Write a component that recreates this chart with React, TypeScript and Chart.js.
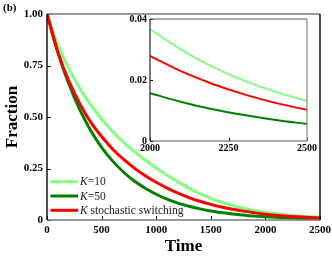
import React, { useEffect, useRef } from 'react';
import { Chart, registerables } from 'chart.js';

Chart.register(...registerables);

// ---------- data ----------
const times = [0, 100, 200, 300, 400, 500, 600, 700, 800, 900, 1000, 1100, 1200, 1300, 1400, 1500, 1600, 1700, 1800, 1900, 2000, 2100, 2200, 2300, 2400, 2500];
const fracK10 = [1, 0.85, 0.735, 0.64, 0.56, 0.49, 0.43, 0.378, 0.332, 0.29, 0.252, 0.217, 0.185, 0.155, 0.128, 0.105, 0.086, 0.07, 0.057, 0.046, 0.0367, 0.0299, 0.0243, 0.0198, 0.0161, 0.0131];
const fracK50 = [1, 0.812, 0.66, 0.536, 0.435, 0.353, 0.287, 0.233, 0.189, 0.154, 0.125, 0.101, 0.082, 0.067, 0.054, 0.044, 0.036, 0.029, 0.024, 0.019, 0.0157, 0.0128, 0.0104, 0.0085, 0.0069, 0.0056];
const fracSwitch = [1, 0.815, 0.675, 0.565, 0.475, 0.405, 0.345, 0.295, 0.252, 0.215, 0.183, 0.155, 0.13, 0.109, 0.091, 0.076, 0.063, 0.052, 0.043, 0.035, 0.0279, 0.0228, 0.0187, 0.0153, 0.0125, 0.0102];

const mainXTicks = [0, 500, 1000, 1500, 2000, 2500];
const mainYTicks = [0, 0.25, 0.5, 0.75, 1];
const insetXTicks = [2000, 2250, 2500];
const insetYTicks = [0, 0.02, 0.04];

const seriesNames = ['K=10', 'K=50', 'K stochastic switching'];
const seriesColors = ['#80ff80', '#008000', '#ff0000'];

const panelLabel = '(b)';
const xTitle = 'Time';
const yTitle = 'Fraction';

const SERIF = "'Liberation Serif', 'Times New Roman', serif";

const toPts = (ys: number[], from = 0) =>
  times.map((t, i) => ({ x: t, y: ys[i] })).filter((p) => p.x >= from);

const fmt = (v: number) => (v === 0 ? '0' : v.toFixed(2));

// ---------- plugins ----------
const frameTicks = {
  id: 'frameTicks',
  afterDatasetsDraw(chart: any, _args: any, opts: any) {
    const { ctx, chartArea } = chart;
    const { left, right, top, bottom } = chartArea;
    const len = opts.len ?? 4;
    ctx.save();
    ctx.lineWidth = 1;
    ctx.strokeStyle = '#111';
    const xs = chart.scales.x;
    const ys = chart.scales.y;
    xs.ticks.forEach((t: any) => {
      const px = Math.round(xs.getPixelForValue(t.value)) + 0.5;
      ctx.beginPath();
      ctx.moveTo(px, bottom);
      ctx.lineTo(px, bottom - len);
      ctx.stroke();
    });
    ys.ticks.forEach((t: any) => {
      const py = Math.round(ys.getPixelForValue(t.value)) + 0.5;
      ctx.beginPath();
      ctx.moveTo(left, py);
      ctx.lineTo(left + len, py);
      ctx.stroke();
    });
    // frame
    ctx.lineWidth = opts.frameWidth ?? 1.5;
    ctx.strokeStyle = opts.hColor ?? '#777';
    ctx.beginPath();
    ctx.moveTo(left, top);
    ctx.lineTo(right, top);
    ctx.moveTo(left, bottom);
    ctx.lineTo(right, bottom);
    ctx.stroke();
    ctx.strokeStyle = opts.lColor ?? '#111';
    ctx.beginPath();
    ctx.moveTo(left, top);
    ctx.lineTo(left, bottom);
    ctx.stroke();
    ctx.strokeStyle = opts.rColor ?? '#111';
    ctx.beginPath();
    ctx.moveTo(right, top);
    ctx.lineTo(right, bottom);
    ctx.stroke();
    ctx.restore();
  },
};

const whiteArea = {
  id: 'whiteArea',
  beforeDraw(chart: any) {
    const { ctx, chartArea } = chart;
    ctx.save();
    ctx.fillStyle = '#fff';
    ctx.fillRect(chartArea.left, chartArea.top, chartArea.width, chartArea.height);
    ctx.restore();
  },
};

const legendAndLabel = {
  id: 'legendAndLabel',
  afterDraw(chart: any) {
    const { ctx, chartArea } = chart;
    const { left, bottom } = chartArea;
    ctx.save();
    // panel label
    ctx.fillStyle = '#000';
    ctx.font = `bold 11px ${SERIF}`;
    ctx.textBaseline = 'alphabetic';
    ctx.textAlign = 'left';
    ctx.fillText(panelLabel, 3, 11);
    // legend
    const rowOffsets = [38.3, 24, 9.7];
    seriesNames.forEach((name, i) => {
      const y = bottom - rowOffsets[i];
      ctx.strokeStyle = seriesColors[i];
      ctx.lineWidth = 3;
      ctx.beginPath();
      ctx.moveTo(left + 3.5, y);
      ctx.lineTo(left + 31, y);
      ctx.stroke();
      ctx.fillStyle = '#222';
      ctx.textBaseline = 'middle';
      const first = name.charAt(0);
      const rest = name.slice(1);
      ctx.font = `italic 11.5px ${SERIF}`;
      const x0 = left + 33;
      ctx.fillText(first, x0, y + 0.5);
      const w = ctx.measureText(first).width;
      ctx.font = `11.5px ${SERIF}`;
      ctx.fillText(rest, x0 + w, y + 0.5);
    });
    ctx.restore();
  },
};

function zeroPad(scale: any) {
  scale.paddingLeft = 0;
  scale.paddingRight = 0;
  scale.paddingTop = 0;
  scale.paddingBottom = 0;
}

function MainChart() {
  const ref = useRef<HTMLCanvasElement | null>(null);
  useEffect(() => {
    if (!ref.current) return;
    const chart = new Chart(ref.current, {
      type: 'line',
      data: {
        datasets: [
          { label: seriesNames[2], data: toPts(fracSwitch), borderColor: seriesColors[2], order: 0 },
          { label: seriesNames[1], data: toPts(fracK50), borderColor: seriesColors[1], order: 1 },
          { label: seriesNames[0], data: toPts(fracK10), borderColor: seriesColors[0], order: 2 },
        ].map((d) => ({ ...d, borderWidth: 3, pointRadius: 0, fill: false, cubicInterpolationMode: 'monotone' as const })),
      },
      options: {
        animation: false,
        responsive: false,
        devicePixelRatio: 1,
        layout: { padding: { left: 0, top: 14, right: 12, bottom: 0 } },
        plugins: {
          legend: { display: false },
          tooltip: { enabled: false },
          frameTicks: { len: 4, hColor: '#777', lColor: '#111', rColor: '#111' },
        } as any,
        scales: {
          x: {
            type: 'linear',
            min: 0,
            max: 2500,
            afterFit: (s: any) => { s.height = 37; zeroPad(s); },
            afterBuildTicks: (s: any) => { s.ticks = mainXTicks.map((v) => ({ value: v })); },
            ticks: {
              padding: 4,
              color: '#000',
              maxRotation: 0,
              font: { family: SERIF, size: 11, weight: 'bold' },
              callback: (v: any) => String(v),
            },
            grid: { display: false, drawTicks: false },
            border: { display: false },
            title: {
              display: true,
              text: xTitle,
              color: '#000',
              font: { family: SERIF, size: 17, weight: 'bold' },
              padding: { top: 0, bottom: 0 },
            },
          },
          y: {
            type: 'linear',
            min: 0,
            max: 1,
            afterFit: (s: any) => { s.width = 47; zeroPad(s); },
            afterBuildTicks: (s: any) => { s.ticks = mainYTicks.map((v) => ({ value: v })); },
            ticks: {
              padding: 4,
              color: '#000',
              font: { family: SERIF, size: 11, weight: 'bold' },
              callback: (v: any) => fmt(Number(v)),
            },
            grid: { display: false, drawTicks: false },
            border: { display: false },
            title: {
              display: true,
              text: yTitle,
              color: '#000',
              font: { family: SERIF, size: 17, weight: 'bold' },
              padding: { top: 2, bottom: 0 },
            },
          },
        },
      },
      plugins: [frameTicks, legendAndLabel],
    });
    return () => chart.destroy();
  }, []);
  return <canvas ref={ref} width={332} height={257} style={{ position: 'absolute', left: 0, top: 0, width: 332, height: 257 }} />;
}

function InsetChart() {
  const ref = useRef<HTMLCanvasElement | null>(null);
  useEffect(() => {
    if (!ref.current) return;
    const chart = new Chart(ref.current, {
      type: 'line',
      data: {
        datasets: [
          { label: seriesNames[2], data: toPts(fracSwitch, 2000), borderColor: seriesColors[2], order: 0 },
          { label: seriesNames[1], data: toPts(fracK50, 2000), borderColor: seriesColors[1], order: 1 },
          { label: seriesNames[0], data: toPts(fracK10, 2000), borderColor: seriesColors[0], order: 2 },
        ].map((d) => ({ ...d, borderWidth: 2, pointRadius: 0, fill: false, cubicInterpolationMode: 'monotone' as const })),
      },
      options: {
        animation: false,
        responsive: false,
        devicePixelRatio: 1,
        layout: { padding: { left: 0, top: 7, right: 13, bottom: 0 } },
        plugins: {
          legend: { display: false },
          tooltip: { enabled: false },
          frameTicks: { len: 3, hColor: '#555', lColor: '#222', rColor: '#888', frameWidth: 1.2 },
        } as any,
        scales: {
          x: {
            type: 'linear',
            min: 2000,
            max: 2500,
            afterFit: (s: any) => { s.height = 13; zeroPad(s); },
            afterBuildTicks: (s: any) => { s.ticks = insetXTicks.map((v) => ({ value: v })); },
            ticks: {
              padding: 1,
              color: '#000',
              maxRotation: 0,
              font: { family: SERIF, size: 10, weight: 'bold' },
              callback: (v: any) => String(v),
            },
            grid: { display: false, drawTicks: false },
            border: { display: false },
          },
          y: {
            type: 'linear',
            min: 0,
            max: 0.04,
            afterFit: (s: any) => { s.width = 25; zeroPad(s); },
            afterBuildTicks: (s: any) => { s.ticks = insetYTicks.map((v) => ({ value: v })); },
            ticks: {
              padding: 3,
              color: '#000',
              font: { family: SERIF, size: 10, weight: 'bold' },
              callback: (v: any) => fmt(Number(v)),
            },
            grid: { display: false, drawTicks: false },
            border: { display: false },
          },
        },
      },
      plugins: [whiteArea, frameTicks],
    });
    return () => chart.destroy();
  }, []);
  return <canvas ref={ref} width={195} height={142} style={{ position: 'absolute', left: 125, top: 12, width: 195, height: 142 }} />;
}

export default function App() {
  useEffect(() => {
    document.body.style.margin = '0';
  }, []);
  return (
    <div style={{ position: 'relative', width: 332, height: 257, background: '#fff', overflow: 'hidden' }}>
      <MainChart />
      <InsetChart />
    </div>
  );
}
